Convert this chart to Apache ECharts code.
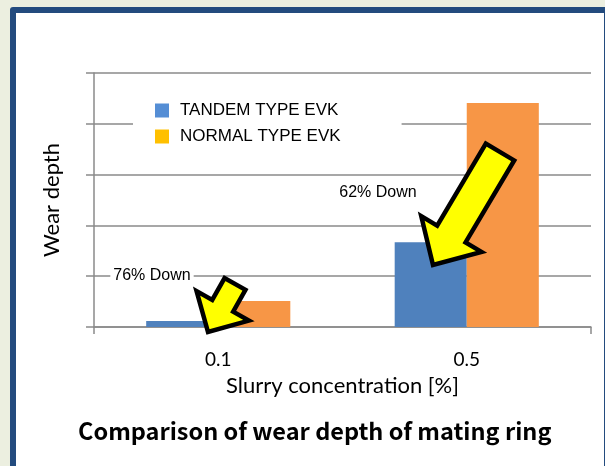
<!DOCTYPE html>
<html>
<head>
<meta charset="utf-8">
<script src="https://cdn.jsdelivr.net/npm/echarts@6/dist/echarts.min.js"></script>
<style>
  html, body { margin: 0; padding: 0; width: 605px; height: 466px; overflow: hidden; background: #ECEFE0; }
  #frame { position: absolute; left: 10px; top: 7px; width: 600px; height: 470px; box-sizing: border-box;
           border: 6px solid #234B7E; border-radius: 3px; background: #ffffff; }
  #main { position: absolute; left: 0; top: 0; width: 605px; height: 466px; }
</style>
</head>
<body>
<div id="frame"></div>
<div id="main"></div>
<script>
// ---- data ----
var categories = ['0.1', '0.5'];
var tandemType = [0.12, 1.67];
var normalType = [0.51, 4.41];
var seriesNames = ['TANDEM TYPE EVK', 'NORMAL TYPE EVK'];
var notes = ['76% Down', '62% Down'];
var yAxisName = 'Wear depth';
var xAxisName = 'Slurry concentration [%]';
var titleText = 'Comparison of wear depth of mating ring';

function arrowPoints(tail, tip, shaftW, headW, headL) {
  var dx = tip[0] - tail[0], dy = tip[1] - tail[1];
  var len = Math.sqrt(dx * dx + dy * dy);
  var ux = dx / len, uy = dy / len;
  var nx = -uy, ny = ux;
  var bx = tip[0] - ux * headL, by = tip[1] - uy * headL;
  return [
    [tail[0] + nx * shaftW / 2, tail[1] + ny * shaftW / 2],
    [bx + nx * shaftW / 2, by + ny * shaftW / 2],
    [bx + nx * headW / 2, by + ny * headW / 2],
    [tip[0], tip[1]],
    [bx - nx * headW / 2, by - ny * headW / 2],
    [bx - nx * shaftW / 2, by - ny * shaftW / 2],
    [tail[0] - nx * shaftW / 2, tail[1] - ny * shaftW / 2]
  ];
}

var gridCol = '#8a8a8a';
var chart = echarts.init(document.getElementById('main'), null, { renderer: 'canvas' });
var option = {
  backgroundColor: 'transparent',
  animation: false,
  title: {
    text: titleText,
    left: 73, top: 414,
    textStyle: { fontFamily: 'Noto Sans CJK JP', fontWeight: 'bold', fontSize: 23.5, color: '#000' }
  },
  legend: {
    orient: 'vertical',
    left: 133, top: 95,
    backgroundColor: '#ffffff',
    padding: [7, 61, 7, 22],
    itemWidth: 14, itemHeight: 14, itemGap: 9,
    icon: 'rect',
    textStyle: { fontFamily: 'Liberation Sans', fontSize: 17, color: '#000', padding: [0, 0, 0, 6] },
    data: [
      { name: seriesNames[0], itemStyle: { color: '#558ED5' } },
      { name: seriesNames[1], itemStyle: { color: '#FFC000' } }
    ]
  },
  grid: { left: 94, right: 14, top: 73, bottom: 139 },
  xAxis: {
    type: 'category',
    data: categories,
    boundaryGap: true,
    axisLine: { lineStyle: { color: gridCol, width: 1.5 } },
    axisTick: { show: true, length: 7, interval: function (i) { return i !== 1; },
      lineStyle: { color: gridCol, width: 1.5 } },
    axisLabel: { margin: 23, fontFamily: 'Lato', fontSize: 19, color: '#000' },
    name: xAxisName,
    nameLocation: 'middle',
    nameGap: 48,
    nameTextStyle: { fontFamily: 'Lato', fontSize: 22, color: '#000' }
  },
  yAxis: {
    type: 'value',
    min: 0, max: 5, interval: 1,
    axisLine: { show: true, lineStyle: { color: gridCol, width: 1.5 } },
    axisTick: { show: true, length: 8, lineStyle: { color: gridCol, width: 1.5 } },
    axisLabel: { show: false },
    splitLine: { lineStyle: { color: gridCol, width: 1.5 } },
    name: yAxisName,
    nameLocation: 'middle',
    nameRotate: 90,
    nameGap: 31,
    nameTextStyle: { fontFamily: 'Lato', fontSize: 22, color: '#000' }
  },
  series: [
    { name: seriesNames[0], type: 'bar', data: tandemType, barGap: '0%', barCategoryGap: '42%',
      itemStyle: { color: '#4F81BD' } },
    { name: seriesNames[1], type: 'bar', data: normalType, barGap: '0%', barCategoryGap: '42%',
      itemStyle: { color: '#F79646' } }
  ],
  graphic: [
    { type: 'text', z: 100, style: { text: notes[0], x: 152, y: 276, align: 'center', verticalAlign: 'middle',
        font: '16px "Liberation Sans"', fill: '#000', backgroundColor: '#fff', padding: [2, 3] } },
    { type: 'text', z: 100, style: { text: notes[1], x: 378, y: 193, align: 'center', verticalAlign: 'middle',
        font: '16px "Liberation Sans"', fill: '#000' } },
    { type: 'polygon', z: 100, shape: { points: arrowPoints([235, 284], [208, 332], 24, 60, 30) },
      style: { fill: '#FFFF00', stroke: '#000', lineWidth: 4.5, lineJoin: 'miter' } },
    { type: 'polygon', z: 100, shape: { points: arrowPoints([500, 152], [433, 265], 33, 70, 36) },
      style: { fill: '#FFFF00', stroke: '#000', lineWidth: 4.5, lineJoin: 'miter' } }
  ]
};
chart.setOption(option);
</script>
</body>
</html>
